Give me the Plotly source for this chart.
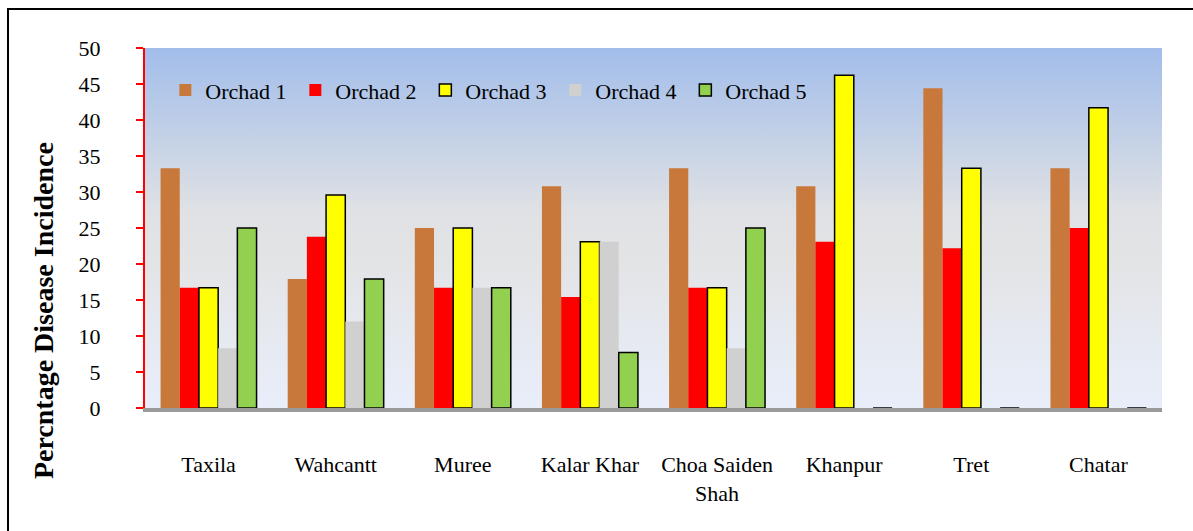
import plotly.graph_objects as go

sites = ["Taxila", "Wahcantt", "Muree", "Kalar Khar", "Choa Saiden<br>Shah",
         "Khanpur", "Tret", "Chatar"]
orchad1 = [33.3, 17.9, 25.0, 30.8, 33.3, 30.8, 44.4, 33.3]
orchad2 = [16.7, 23.8, 16.7, 15.4, 16.7, 23.1, 22.2, 25.0]
orchad3 = [16.7, 29.6, 25.0, 23.1, 16.7, 46.2, 33.3, 41.7]
orchad4 = [8.3, 12.0, 16.7, 23.1, 8.3, 0, 0, 0]
orchad5 = [25.0, 17.9, 16.7, 7.7, 25.0, 0, 0, 0]
series_names = ["Orchad 1", "Orchad 2", "Orchad 3", "Orchad 4", "Orchad 5"]
y_ticks = [0, 5, 10, 15, 20, 25, 30, 35, 40, 45, 50]

series = [orchad1, orchad2, orchad3, orchad4, orchad5]
colors = ["#c8783a", "#ff0000", "#ffff00", "#d0d0d0", "#92d050"]
outlines = [0, 0, 1.5, 0, 1.5]
xpos = list(range(len(sites)))

FONT = "Liberation Serif"

fig = go.Figure()

# gradient background of the plot area (base subplot, drawn underneath)
fig.add_trace(go.Scatter(
    x=[-0.5, 7.5, 7.5, -0.5, -0.5], y=[0, 0, 50, 50, 0],
    xaxis="x", yaxis="y",
    mode="lines", line=dict(width=0), fill="toself",
    fillgradient=dict(type="vertical", start=0, stop=50,
                      colorscale=[[0, "#e8eefa"], [0.4, "#e3e4e6"],
                                  [0.55, "#dfe1e4"], [1, "#a2bdea"]]),
    hoverinfo="skip", showlegend=False))

# bars on the overlaying subplot so they sit on top of the background
for name, vals, c, lw in zip(series_names, series, colors, outlines):
    fig.add_trace(go.Bar(
        x=xpos, y=vals, name=name, xaxis="x2", yaxis="y2",
        marker=dict(color=c, line=dict(color="black", width=lw))))

fig.add_annotation(
    text="<b>Percntage Disease Incidence</b>", textangle=-90,
    xref="paper", yref="paper", x=-0.1, y=0.27,
    xanchor="center", yanchor="middle",
    showarrow=False, font=dict(family=FONT, size=28, color="black"))

# outer frame
fig.add_shape(type="rect", xref="paper", yref="paper",
              x0=-0.1347, x1=1.05, y0=-0.4, y1=1.108,
              line=dict(color="black", width=2), layer="below")

fig.update_layout(
    width=1193, height=531,
    margin=dict(l=145, r=31, t=48, b=123),
    paper_bgcolor="white", plot_bgcolor="white",
    barmode="group", bargap=0.245, bargroupgap=0,
    font=dict(family=FONT, size=22, color="black"),
    legend=dict(orientation="h", x=0.02, y=0.883, xanchor="left",
                yanchor="middle", bgcolor="rgba(0,0,0,0)",
                entrywidth=85, entrywidthmode="pixels",
                itemwidth=30, tracegroupgap=0,
                font=dict(family=FONT, size=22, color="black")),
    xaxis=dict(range=[-0.5, 7.5], visible=False, showgrid=False,
               zeroline=False),
    yaxis=dict(range=[0, 50], visible=False, showgrid=False,
               zeroline=False),
    xaxis2=dict(range=[-0.5, 7.5], overlaying="x", anchor="y2",
                tickvals=xpos, ticktext=sites,
                showgrid=False, zeroline=False, showline=True,
                linecolor="#9a9a9a", linewidth=4, ticks="",
                ticklabelstandoff=34,
                tickfont=dict(family=FONT, size=22, color="black")),
    yaxis2=dict(range=[0, 50], overlaying="y", anchor="x2", side="left",
                tickvals=y_ticks, showgrid=False,
                zeroline=False, showline=True, linecolor="#ff0000",
                linewidth=2, ticks="outside", tickcolor="#ff0000",
                ticklen=7, tickwidth=2, ticklabelstandoff=31,
                tickfont=dict(family=FONT, size=22, color="black")),
)

fig.write_html("out.html")
